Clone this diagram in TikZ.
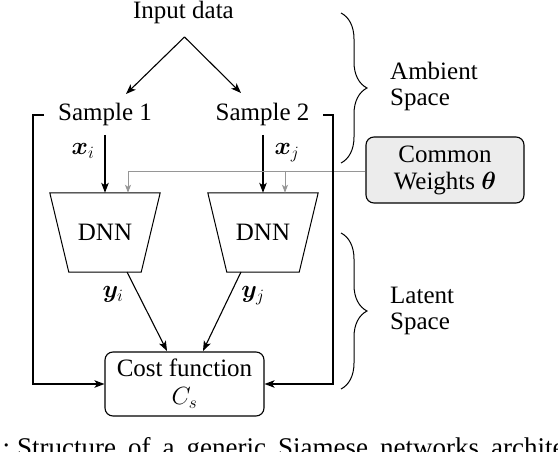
\documentclass[tikz,border=0pt]{standalone}
\usepackage{fontspec}
\setmainfont{Liberation Serif}
\usepackage{bm}
\usetikzlibrary{arrows.meta,decorations.pathreplacing}
\definecolor{wgray}{RGB}{150,150,150}
\definecolor{boxfill}{RGB}{236,236,236}
\newcommand{\wideskip}{\spaceskip=12pt\relax}
\begin{document}
\begin{tikzpicture}[x=1pt,y=-1pt,
  every node/.style={font=\fontsize{25}{26}\selectfont, inner sep=0pt},
  ln/.style={line width=1.1pt},
  arr/.style={line width=1.1pt, -{Stealth[length=10pt,width=7.5pt,inset=2.5pt]}},
  garr/.style={line width=0.9pt, draw=wgray, -{Stealth[length=8pt,width=6pt,inset=2pt,fill=wgray]}},
  dnnbox/.style={minimum width=110pt, minimum height=79pt},
  costbox/.style={draw, line width=1.1pt, rounded corners=8pt, minimum width=159pt, minimum height=64pt, align=center, font=\fontsize{25}{28}\selectfont},
  cwbox/.style={draw, line width=1.1pt, rounded corners=8pt, fill=boxfill, minimum width=158pt, minimum height=66pt, align=center, font=\fontsize{25}{27}\selectfont},
  bracestyle/.style={decorate, decoration={brace, amplitude=26pt}, line width=1pt},
  side/.style={align=left, anchor=base west},
  captext/.style={anchor=base west, font=\fontsize{27}{30}\selectfont}]
\useasboundingbox (0,0) rectangle (558,452);

% input
\node[anchor=base] (in) at (183.5,18.5) {Input data};
\coordinate (apex) at (184.5,37);
\coordinate (t1) at (126,94);
\coordinate (t2) at (241,93);
\draw[arr] (apex) -- (t1);
\draw[arr] (apex) -- (t2);

% samples
\node[anchor=base] (s1) at (105,121) {Sample 1};
\node[anchor=base] (s2) at (262.5,121) {Sample 2};

% DNNs
\node[dnnbox] (d1) at (105,232.5) {DNN};
\node[dnnbox] (d2) at (263,232.5) {DNN};
\foreach \d in {d1,d2}{
  \draw[line width=1pt] (\d.north west) -- (\d.north east) -- ([xshift=-19pt]\d.south east) -- ([xshift=19pt]\d.south west) -- cycle;
}

% cost function
\node[costbox] (cost) at (184.5,384) {Cost function\\$C_s$};

% common weights
\node[cwbox] (cw) at (445,170) {Common\\Weights $\bm{\theta}$};

% x arrows
\coordinate (x1s) at (105,135);
\coordinate (x2s) at (263,135);
\draw[arr] (x1s) -- (d1.north);
\draw[arr] (x2s) -- (d2.north);
\node[anchor=base] (xi) at (83,155) {$\bm{x}_i$};
\node[anchor=base] (xj) at (287,155) {$\bm{x}_j$};

% gray weight arrows
\coordinate (g1) at (128,171);
\coordinate (g2) at (285,171);
\draw[garr] (cw.west |- g1) -- (g1) -- (g1 |- d1.north);
\draw[garr] (g2) -- (g2 |- d2.north);

% y arrows
\coordinate (y1s) at (127,272);
\coordinate (y2s) at (241,272);
\coordinate (y1e) at (167,351);
\coordinate (y2e) at (203,351);
\draw[arr] (y1s) -- (y1e);
\draw[arr] (y2s) -- (y2e);
\node[anchor=base] (yi) at (113,298) {$\bm{y}_i$};
\node[anchor=base] (yj) at (253,298) {$\bm{y}_j$};

% side brackets
\draw[arr] (44,115) -- (33,115) |- (cost.west);
\draw[arr] (323,115) -- (333,115) |- (cost.east);

% braces
\draw[bracestyle] (341,13) -- (341,163);
\draw[bracestyle] (341,233) -- (341,389);
\node[side] (amb) at (390,106) {Ambient\\Space};
\node[side] (lat) at (390,329) {Latent\\Space};

% caption (cut by the frame, as in the reference)
\node[captext] (cap) at (17,456) {\wideskip\llap{Fig.~1:\kern7pt}Structure of a generic Siamese networks architecture.};
\end{tikzpicture}
\end{document}
